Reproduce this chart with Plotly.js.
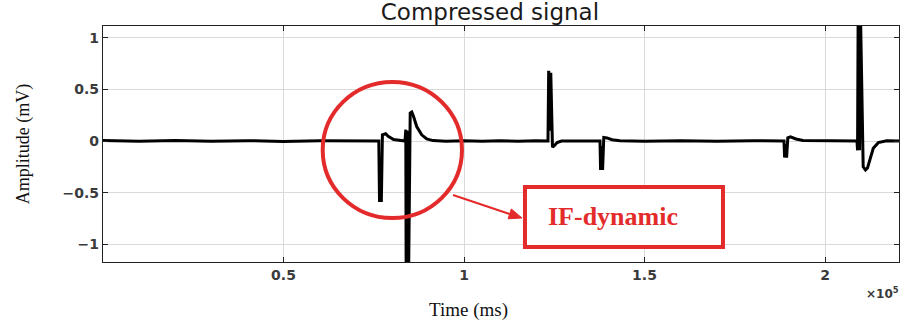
<!DOCTYPE html>
<html>
<head>
<meta charset="utf-8">
<script src="https://cdn.plot.ly/plotly-3.0.1.min.js"></script>
<style>html,body{margin:0;padding:0;background:#fff;}#chart{width:904px;height:326px;}</style>
</head>
<body>
<div id="chart"></div>
<script>
// Time samples (ms) and amplitude (mV)
const timeMs = [
  0, 10000, 20000, 30000, 40000, 50000, 60000, 70000, 76400,
  76600, 76900, 77100, 77400, 78300, 79000, 80500, 83000, 83650,
  83880, 83990, 84320, 84600, 85100, 85540, 86010, 86900, 88280, 89670, 91410,
  95000, 100000, 105000, 110000, 115000, 120000, 123265,
  123460, 123820, 124040, 124510, 125000, 125800, 127000,
  130000, 135000, 137670,
  137835, 138170, 138390, 138720, 139600, 141000, 143200,
  150000, 160000, 170000, 180000, 188640,
  188810, 189140, 189360, 189700, 190440, 191960, 193900,
  198000, 204000, 208860,
  209020, 209190, 209580, 209800, 210580, 211210, 211770, 212460, 213370, 214760, 217090, 220500
];
const amplitudeMv = [
  0.004, -0.003, 0.004, -0.002, 0.003, -0.004, 0.002, -0.003, 0.0,
  -0.59, -0.2, -0.59, 0.06, 0.07, 0.045, 0.015, 0.004, 0.0,
  0.11, -1.5, 0.1, -1.5, 0.27, 0.28, 0.24, 0.14, 0.06, 0.02, 0.004,
  -0.002, 0.003, -0.003, 0.002, -0.002, 0.003, 0.0,
  0.68, 0.1, 0.66, -0.06, -0.045, -0.015, 0.0,
  0.002, -0.002, 0.0,
  -0.28, -0.05, -0.28, 0.035, 0.03, 0.012, 0.003,
  -0.003, 0.002, -0.002, 0.003, 0.0,
  -0.16, -0.03, -0.16, 0.03, 0.04, 0.02, 0.005,
  0.002, -0.002, 0.0,
  -0.09, 1.3, -0.09, 1.3, -0.25, -0.28, -0.26, -0.18, -0.07, -0.016, 0.003, 0.0
];
const xTickVals = [50000, 100000, 150000, 200000];
const xTickText = ['0.5', '1', '1.5', '2'];
const yTickVals = [-1, -0.5, 0, 0.5, 1];
const yTickText = ['\u22121', '\u22120.5', '0', '0.5', '1'];

const red = '#e42b2b';
const tickFont = {family: 'DejaVu Sans', size: 14, color: '#3a3a3a', weight: 'bold'};

const trace = {
  x: timeMs, y: amplitudeMv, type: 'scatter', mode: 'lines',
  line: {color: '#000', width: 3}, hoverinfo: 'skip'
};

const layout = {
  width: 904, height: 326,
  margin: {l: 103, r: 5, t: 26, b: 64},
  paper_bgcolor: '#fff', plot_bgcolor: '#fff',
  showlegend: false,
  title: {
    text: 'Compressed signal', x: 0.542, xref: 'container', xanchor: 'center',
    y: 0.962, yref: 'container', yanchor: 'middle',
    font: {family: 'DejaVu Sans', size: 23, color: '#1a1a1a'}
  },
  xaxis: {
    range: [0, 220500], tickvals: xTickVals, ticktext: xTickText,
    showgrid: true, gridcolor: '#dadada', gridwidth: 1, zeroline: false,
    showline: true, mirror: 'ticks', linecolor: '#222', linewidth: 1.2,
    ticks: 'inside', ticklen: 5, tickcolor: '#222', tickfont: tickFont
  },
  yaxis: {
    range: [-1.171, 1.113], tickvals: yTickVals, ticktext: yTickText,
    showgrid: true, gridcolor: '#dadada', gridwidth: 1, zeroline: false,
    showline: true, mirror: 'ticks', linecolor: '#222', linewidth: 1.2,
    ticks: 'inside', ticklen: 5, tickcolor: '#222', tickfont: tickFont,
    title: {text: 'Amplitude (mV)', standoff: 28,
            font: {family: 'Liberation Serif', size: 18, color: '#111'}}
  },
  shapes: [
    {type: 'circle', xref: 'x', yref: 'y', x0: 60860, x1: 99440, y0: -0.745, y1: 0.571,
     line: {color: red, width: 4}, layer: 'above'},
    {type: 'rect', xref: 'x', yref: 'y', x0: 116890, x1: 171740, y0: -1.026, y1: -0.445,
     line: {color: red, width: 4}, fillcolor: '#fff', layer: 'above'},
    {type: 'line', xref: 'x', yref: 'y', x0: 96950, y0: -0.523, x1: 112900, y1: -0.71,
     line: {color: red, width: 2}, layer: 'above'},
    {type: 'path', xref: 'x', yref: 'y', path: 'M 116060,-0.745 L 112210,-0.753 L 113100,-0.658 Z',
     fillcolor: red, line: {color: red, width: 1}, layer: 'above'}
  ],
  annotations: [
    {x: 141270, y: -0.726, xref: 'x', yref: 'y', text: 'IF-dynamic', showarrow: false,
     font: {family: 'Liberation Serif', size: 26, color: red, weight: 'bold'}},
    {x: (882 - 103) / 796, y: (262 - 293) / 236, xref: 'paper', yref: 'paper', xanchor: 'center', yanchor: 'middle',
     text: '\u00d710<sup>5</sup>', showarrow: false,
     font: {family: 'DejaVu Sans', size: 12, color: '#3a3a3a', weight: 'bold'}},
    {x: (468 - 103) / 796, y: (262 - 310) / 236, xref: 'paper', yref: 'paper', xanchor: 'center', yanchor: 'middle',
     text: 'Time (ms)', showarrow: false,
     font: {family: 'Liberation Serif', size: 19, color: '#111'}}
  ]
};

Plotly.newPlot('chart', [trace], layout, {staticPlot: true, displayModeBar: false});
</script>
</body>
</html>
